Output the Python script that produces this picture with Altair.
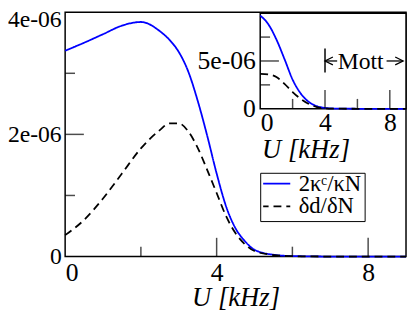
import altair as alt
import pandas as pd

# ---------------- data ----------------
series_names = ["2κᶜ/κN", "δd/δN"]

U_main = [0, 0.5, 1.0, 1.5, 2.0, 2.5, 2.75, 3.0, 3.25, 3.5, 3.75, 4.0, 4.25,
          4.5, 4.75, 5.0, 5.5, 6.0, 7.0, 8.0, 9.0]
kappa_main = [3.37, 3.50, 3.64, 3.78, 3.84, 3.69, 3.55, 3.35, 3.03, 2.55, 1.98,
              1.36, 0.82, 0.46, 0.25, 0.11, 0.03, 0.008, 0.0, 0.0, 0.0]
dd_main = [0.35, 0.60, 0.95, 1.36, 1.77, 2.07, 2.18, 2.18, 2.05, 1.78, 1.42,
           1.04, 0.66, 0.38, 0.20, 0.09, 0.025, 0.005, 0.0, 0.0, 0.0]

U_inset = [0, 0.5, 1.0, 1.5, 2.0, 2.5, 3.0, 3.5, 4.0, 4.5, 5.0, 6.0, 7.0, 8.0, 9.0]
kappa_inset = [9.75, 8.85, 7.25, 5.2, 3.05, 1.6, 0.72, 0.27, 0.09, 0.03, 0.01,
               0.0, 0.0, 0.0, 0.0]
dd_inset = [3.65, 3.6, 3.33, 2.6, 1.75, 1.03, 0.5, 0.18, 0.06, 0.02, 0.005,
            0.0, 0.0, 0.0, 0.0]
scale_factor = 1e-6

main_x_major = [4, 8]
main_x_minor = [2, 6]
main_y_major = [2e-6]
main_y_minor = [1e-6, 3e-6]
main_x_labels = [0, 4, 8]
main_y_labels = [0, 2e-6, 4e-6]

inset_x_major = [4, 8]
inset_x_minor = [2, 6]
inset_y_major = [5e-6]
inset_y_minor = [2.5e-6, 7.5e-6]
inset_x_labels = [0, 4, 8]
inset_y_labels = [0, 5e-6]

# Mott annotation (inset data units)
mott_bar_U = [4.0]
mott_bar_lo = [3.8e-6]
mott_bar_hi = [6.3e-6]
mott_text_U = [6.2]
mott_text_v = [5.0e-6]
mott_text = ["Mott"]
shaft_from = [4.0, 7.8]
shaft_to = [4.75, 8.82]
shaft_v = [5.0e-6, 5.0e-6]
head_U = [4.0, 8.82]
head_v = [5.0e-6, 5.0e-6]
head_dir = ["left", "right"]

# ---------------- tables ----------------
def long(U, a, b):
    rows = []
    for u, v in zip(U, a):
        rows.append({"U": u, "v": v * scale_factor, "s": series_names[0]})
    for u, v in zip(U, b):
        rows.append({"U": u, "v": v * scale_factor, "s": series_names[1]})
    return pd.DataFrame(rows)

df_main = long(U_main, kappa_main, dd_main)
df_inset = long(U_inset, kappa_inset, dd_inset)

FONT = "Liberation Serif"
LABEL_EXPR = ("datum.value == 0 ? '0' : "
              "replace(format(datum.value, '.0e'), 'e-', 'e-0')")

AX_STYLE = dict(labelFont=FONT, titleFont=FONT, labelColor="black",
                titleColor="black", titleFontStyle="italic",
                titleFontWeight="normal", ticks=False, domain=False, grid=False)

# ---------------- scales / axes ----------------
xs_main = alt.Scale(domain=[0, 9], nice=False, zero=False)
ys_main = alt.Scale(domain=[0, 4e-6], nice=False, zero=False)
xs_in = alt.Scale(domain=[0, 9], range=[198, 346], nice=False, zero=False)
ys_in = alt.Scale(domain=[0, 1e-5], range=[98, 1], nice=False, zero=False)

ax_x_main = alt.Axis(values=main_x_labels, title="U [kHz]", labelPadding=3,
                     labelFontSize=26, titleFontSize=27, titlePadding=0,
                     orient="bottom", **AX_STYLE)
ax_y_main = alt.Axis(values=main_y_labels, title=None, labelPadding=4,
                     labelFontSize=24, labelExpr=LABEL_EXPR, orient="left",
                     labelOffset={"condition": {"test": "datum.value > 3e-6",
                                                "value": 7}, "value": 0},
                     **AX_STYLE)
ax_x_in = alt.Axis(values=inset_x_labels, title="U [kHz]", labelPadding=1,
                   labelFontSize=26, titleFontSize=27, titlePadding=1,
                   orient="bottom", offset=-150, titleX=244, **AX_STYLE)
ax_y_in = alt.Axis(values=inset_y_labels, title=None, labelPadding=5,
                   labelFontSize=26, labelExpr=LABEL_EXPR, orient="left",
                   offset=-198, **AX_STYLE)

def xm(field=None, datum=None):
    if datum is not None:
        return alt.X(datum=datum, scale=xs_main, axis=ax_x_main)
    return alt.X(field, type="quantitative", scale=xs_main, axis=ax_x_main)

def ym(field=None, datum=None):
    if datum is not None:
        return alt.Y(datum=datum, scale=ys_main, axis=ax_y_main)
    return alt.Y(field, type="quantitative", scale=ys_main, axis=ax_y_main)

def xi(field=None, datum=None):
    if datum is not None:
        return alt.X(datum=datum, scale=xs_in, axis=ax_x_in)
    return alt.X(field, type="quantitative", scale=xs_in, axis=ax_x_in)

def yi(field=None, datum=None):
    if datum is not None:
        return alt.Y(datum=datum, scale=ys_in, axis=ax_y_in)
    return alt.Y(field, type="quantitative", scale=ys_in, axis=ax_y_in)

legend = alt.Legend(title=None, orient="none", legendX=198, legendY=163,
                    symbolType="M-3,0H3", symbolSize=100, symbolStrokeWidth=1.8,
                    labelFont=FONT, labelFontSize=23, labelColor="black",
                    strokeColor="black", fillColor="white", padding=3,
                    symbolOffset=1, labelOffset=12, rowPadding=0,
                    clipHeight=16)
color = alt.Color("s:N", scale=alt.Scale(domain=series_names,
                                          range=["#0000ff", "black"]),
                  legend=legend)
dash = alt.StrokeDash("s:N", scale=alt.Scale(domain=series_names,
                                              range=[[1, 0], [8, 5]]),
                      legend=legend)

def ticks_x(vals, xf, yf, length):
    d = pd.DataFrame({"t": vals})
    return alt.Chart(d).mark_tick(orient="vertical", size=length,
                                  yOffset=-length / 2, thickness=1.5,
                                  color="black").encode(x=xf("t"), y=yf(datum=0))

def ticks_y(vals, xf, yf, length):
    d = pd.DataFrame({"t": vals})
    return alt.Chart(d).mark_tick(orient="horizontal", size=length,
                                  xOffset=length / 2, thickness=1.5,
                                  color="black").encode(y=yf("t"), x=xf(datum=0))

# ---------------- main panel ----------------
lines_main = alt.Chart(df_main).mark_line(strokeWidth=1.8, interpolate="monotone").encode(
    x=xm("U"), y=ym("v"), color=color, strokeDash=dash, order=alt.Order("U:Q"))

main = alt.layer(
    lines_main,
    ticks_x(main_x_major, xm, ym, 19),
    ticks_x(main_x_minor, xm, ym, 10),
    ticks_y(main_y_major, xm, ym, 19),
    ticks_y(main_y_minor, xm, ym, 10),
)

# ---------------- inset ----------------
frame = alt.Chart(pd.DataFrame({"a": [0]})).mark_rect(
    fill="white", stroke="black", strokeWidth=1.5).encode(
    x=xi(datum=0), x2=alt.X2(datum=9), y=yi(datum=0), y2=alt.Y2(datum=1e-5))

lines_in = alt.Chart(df_inset).mark_line(strokeWidth=1.8, interpolate="monotone").encode(
    x=xi("U"), y=yi("v"), color=color, strokeDash=dash, order=alt.Order("U:Q"))

bar = alt.Chart(pd.DataFrame({"U": mott_bar_U, "lo": mott_bar_lo, "hi": mott_bar_hi})).mark_rule(
    color="black", strokeWidth=1.5).encode(x=xi("U"), y=yi("lo"), y2=alt.Y2("hi"))

mott = alt.Chart(pd.DataFrame({"U": mott_text_U, "v": mott_text_v, "t": mott_text})).mark_text(
    font=FONT, fontSize=24, color="black", baseline="middle", align="center", dy=1).encode(
    x=xi("U"), y=yi("v"), text="t:N")

shafts = alt.Chart(pd.DataFrame({"a": shaft_from, "b": shaft_to, "v": shaft_v})).mark_rule(
    color="black", strokeWidth=1.3).encode(x=xi("a"), x2=alt.X2("b"), y=yi("v"))

heads = alt.Chart(pd.DataFrame({"U": head_U, "v": head_v, "d": head_dir})).mark_point(
    filled=False, size=64, strokeWidth=1.3, color="black", opacity=1).encode(
    x=xi("U"), y=yi("v"),
    shape=alt.Shape("d:N", scale=alt.Scale(domain=["left", "right"],
                                           range=["M2,-1L0,0L2,1", "M-2,-1L0,0L-2,1"]),
                    legend=None))

inset = alt.layer(
    frame, lines_in,
    ticks_x(inset_x_major, xi, yi, 19),
    ticks_x(inset_x_minor, xi, yi, 10),
    ticks_y(inset_y_major, xi, yi, 19),
    ticks_y(inset_y_minor, xi, yi, 10),
    bar, shafts, heads, mott,
)

chart = alt.layer(main, inset).resolve_scale(
    x="independent", y="independent"
).properties(
    width=346, height=248,
    autosize=alt.AutoSizeParams(type="none"),
    padding={"left": 58, "top": 2, "right": 1, "bottom": 53},
).configure_view(
    stroke="black", strokeWidth=1.5
).configure_axis(
    labelFont=FONT, titleFont=FONT
)

chart.save("out.html", embed_options={"renderer": "svg", "actions": False})
